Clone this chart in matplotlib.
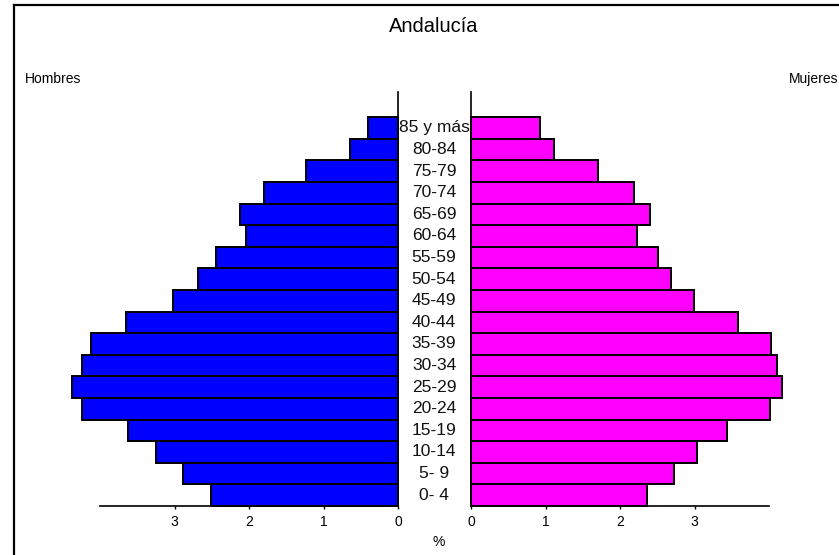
import matplotlib
matplotlib.use("Agg")
import matplotlib.pyplot as plt
from matplotlib.lines import Line2D
from matplotlib.transforms import blended_transform_factory

plt.rcParams["font.family"] = ["Liberation Sans", "DejaVu Sans"]

# ----------------------------------------
# Datos (% de población por grupo de edad)
# ----------------------------------------

grupos = ["0- 4", "5- 9", "10-14", "15-19", "20-24", "25-29", "30-34",
          "35-39", "40-44", "45-49", "50-54", "55-59", "60-64", "65-69",
          "70-74", "75-79", "80-84", "85 y más"]

hombres = [2.51, 2.89, 3.25, 3.63, 4.24, 4.37, 4.24, 4.12, 3.65,
           3.02, 2.68, 2.44, 2.04, 2.12, 1.80, 1.23, 0.64, 0.40]

mujeres = [2.36, 2.72, 3.04, 3.43, 4.02, 4.17, 4.11, 4.03, 3.58,
           2.99, 2.68, 2.51, 2.23, 2.40, 2.19, 1.70, 1.12, 0.92]

ticks = [0, 1, 2, 3]

W, H = 839, 555
fig = plt.figure(figsize=(W / 100, H / 100), dpi=100)

# posiciones en píxeles del original
y_bot, y_top = 506, 92
ax_h = fig.add_axes([100 / W, 1 - y_bot / H, 298 / W, (y_bot - y_top) / H])
ax_m = fig.add_axes([471 / W, 1 - y_bot / H, 298 / W, (y_bot - y_top) / H])

pos = list(range(len(grupos)))
ylim = (-0.5, -0.5 + (y_bot - y_top) / 21.6)

for ax, vals, color in [(ax_h, hombres, "#0000ff"), (ax_m, mujeres, "#ff00ff")]:
    ax.barh(pos, vals, height=1.0, color=color, edgecolor="black",
            linewidth=1.4, clip_on=False, zorder=3)
    ax.set_xlim(0, 4)
    ax.set_ylim(*ylim)
    ax.set_yticks([])
    ax.set_xticks(ticks)
    ax.tick_params(axis="x", direction="out", length=2.5, width=1,
                   pad=4, labelsize=10)
    ax.spines["top"].set_visible(False)
    for s in ax.spines.values():
        s.set_linewidth(1.2)

ax_h.invert_xaxis()
ax_h.spines["left"].set_visible(False)
ax_m.spines["right"].set_visible(False)

# etiquetas de edad en el centro
trans = blended_transform_factory(ax_h.transAxes, ax_h.transData)
xc = (434 - 100) / 298
for p, g in zip(pos, grupos):
    ax_h.text(xc, p, g, transform=trans, ha="center", va="center",
              fontsize=12.5, color="#111111", clip_on=False, zorder=5)

fig.text(434 / W, 1 - 26 / H, "Andalucía", ha="center", va="center", fontsize=14.5)
fig.text(25 / W, 1 - 79 / H, "Hombres", ha="left", va="center", fontsize=10)
fig.text(838 / W, 1 - 79 / H, "Mujeres", ha="right", va="center", fontsize=10)
fig.text(439 / W, 1 - 542 / H, "%", ha="center", va="center", fontsize=10)

# marco del original (solo izquierda y arriba)
fig.add_artist(Line2D([14 / W, 14 / W], [0, 1 - 5 / H], color="black", lw=1.6,
                      transform=fig.transFigure))
fig.add_artist(Line2D([14 / W, 1], [1 - 5 / H, 1 - 5 / H], color="black", lw=1.6,
                      transform=fig.transFigure))

fig.savefig("out.png", dpi=100)
